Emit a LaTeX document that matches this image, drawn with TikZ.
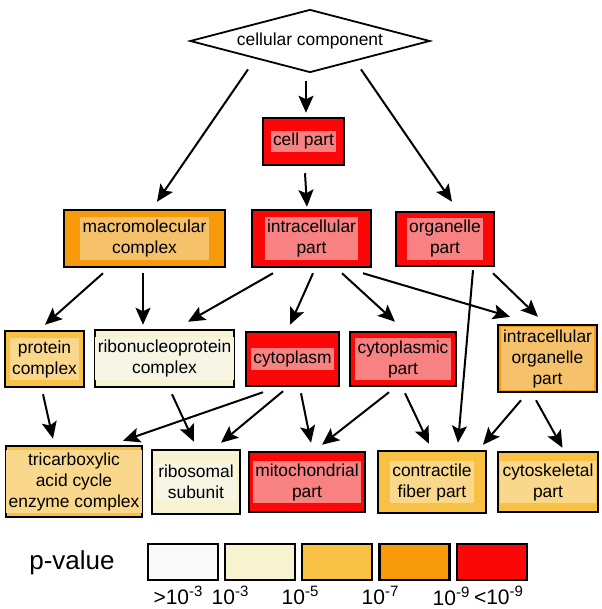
\documentclass[tikz,border=0pt]{standalone}
\usepackage{fontspec}
\setmainfont{Liberation Sans}
\usetikzlibrary{shapes.geometric,arrows.meta}

\definecolor{cWhite}{HTML}{F9F9F9}
\definecolor{cCream}{HTML}{F7F2D0}
\definecolor{cLtOr}{HTML}{F9C144}
\definecolor{cOr}{HTML}{F79A09}
\definecolor{cRed}{HTML}{FC0707}
\definecolor{cCreamIn}{HTML}{F7F5E4}
\definecolor{cLtOrIn}{HTML}{F9D78B}
\definecolor{cOrIn}{HTML}{F6C16B}
\definecolor{cRedIn}{HTML}{F88181}

\newcommand{\pexp}[1]{\raisebox{8pt}{\fontsize{15}{15}\selectfont #1}}

\tikzset{
  gobox/.style={draw=black, line width=2.5pt, inner sep=0pt},
  golab/.style={inner sep=2.5pt, align=center, font=\fontsize{17.4}{21}\selectfont},
  arr/.style={line width=2pt, -{Stealth[length=17pt,width=15pt,inset=3.5pt]}},
  legbox/.style={draw=black, line width=2.3pt, minimum width=70pt, minimum height=36pt},
  leglab/.style={anchor=base, inner sep=0pt, font=\fontsize{21}{22}\selectfont},
}

\begin{document}
\begin{tikzpicture}[x=1pt,y=-1pt]
\useasboundingbox (0,0) rectangle (601,609);
\node[diamond, draw, line width=1.8pt, aspect=3.7, inner sep=0pt, minimum width=240pt, minimum height=63pt, font=\fontsize{17.4}{21}\selectfont] (cc) at (310,41) {cellular component};

\node[gobox, fill=cRed, minimum width=81pt, minimum height=47pt] (cellpart) at (303.5,141.5) {};
\node[golab, fill=cRedIn] (cellpart-t) at (cellpart) {cell part};

\node[gobox, fill=cOr, minimum width=161pt, minimum height=57pt] (macro) at (144.5,238.5) {};
\node[golab, fill=cOrIn] (macro-t) at (macro) {macromolecular\\complex};
\node[gobox, fill=cRed, minimum width=119pt, minimum height=57pt] (intra) at (311.5,238.5) {};
\node[golab, fill=cRedIn] (intra-t) at (intra) {intracellular\\part};
\node[gobox, fill=cRed, minimum width=98pt, minimum height=54pt] (organelle) at (445,239) {};
\node[golab, fill=cRedIn] (organelle-t) at (organelle) {organelle\\part};

\node[gobox, fill=cLtOr, minimum width=79pt, minimum height=56pt] (protein) at (44.5,359) {};
\node[golab, fill=cLtOrIn] (protein-t) at (protein) {protein\\complex};
\node[gobox, fill=cCream, minimum width=139pt, minimum height=57pt] (ribo) at (164.5,358.5) {};
\node[golab, fill=cCreamIn] (ribo-t) at (ribo) {ribonucleoprotein\\complex};
\node[gobox, fill=cRed, minimum width=93pt, minimum height=54pt] (cytoplasm) at (292.5,359) {};
\node[golab, fill=cRedIn] (cytoplasm-t) at (cytoplasm) {cytoplasm};
\node[gobox, fill=cRed, minimum width=106pt, minimum height=54pt] (cytpart) at (403,359) {};
\node[golab, fill=cRedIn] (cytpart-t) at (cytpart) {cytoplasmic\\part};
\node[gobox, fill=cOr, minimum width=99pt, minimum height=67pt] (iop) at (547.5,358.5) {};
\node[golab, fill=cOrIn] (iop-t) at (iop) {intracellular\\organelle\\part};

\node[gobox, fill=cLtOr, minimum width=136pt, minimum height=71pt] (tca) at (74,481.5) {};
\node[golab, fill=cLtOrIn] (tca-t) at (tca) {tricarboxylic\\acid cycle\\enzyme complex};
\node[gobox, fill=cCream, minimum width=88pt, minimum height=64pt] (ribosomal) at (196,482) {};
\node[golab, fill=cCreamIn] (ribosomal-t) at (ribosomal) {ribosomal\\subunit};
\node[gobox, fill=cRed, minimum width=116pt, minimum height=60pt] (mito) at (307,482) {};
\node[golab, fill=cRedIn] (mito-t) at (mito) {mitochondrial\\part};
\node[gobox, fill=cLtOr, minimum width=108pt, minimum height=62pt] (contractile) at (432,482) {};
\node[golab, fill=cLtOrIn] (contractile-t) at (contractile) {contractile\\fiber part};
\node[gobox, fill=cLtOr, minimum width=100pt, minimum height=60pt] (cytoskel) at (548,482) {};
\node[golab, fill=cLtOrIn] (cytoskel-t) at (cytoskel) {cytoskeletal\\part};

\draw[arr] ([shift={(-62,-4)}]cc.south) -- ([shift={(12.5,-7)}]macro.north);
\draw[arr] ([shift={(-4,8)}]cc.south) -- ([shift={(2.5,-4)}]cellpart.north);
\draw[arr] ([shift={(51,-4)}]cc.south) -- ([shift={(7,-9)}]organelle.north);
\draw[arr] ([shift={(1.5,7)}]cellpart.south) -- ([shift={(-4.5,-2)}]intra.north);
\draw[arr] ([shift={(-41.5,5)}]macro.south) -- ([shift={(0.5,-5)}]protein.north);
\draw[arr] ([shift={(-1.5,5)}]macro.south) -- ([shift={(-21.5,-4)}]ribo.north);
\draw[arr] ([shift={(-38.5,5)}]intra.south) -- ([shift={(23.5,-7)}]ribo.north);
\draw[arr] ([shift={(1.5,5)}]intra.south) -- ([shift={(-2.5,-6)}]cytoplasm.north);
\draw[arr] ([shift={(30.5,5)}]intra.south) -- ([shift={(-8,-9)}]cytpart.north);
\draw[arr] ([shift={(51.5,5)}]intra.south) -- ([shift={(-37.5,-7)}]iop.north);
\draw[arr] ([shift={(48,6)}]organelle.south) -- ([shift={(-9.5,-7)}]iop.north);
\draw[arr] ([shift={(28,3)}]organelle.south) -- ([shift={(26,-7)}]contractile.north);
\draw[arr] ([shift={(-1.5,6)}]protein.south) -- ([shift={(-21,-6)}]tca.north);
\draw[arr] ([shift={(-29.5,5)}]cytoplasm.south) -- ([shift={(49,-4)}]tca.north);
\draw[arr] ([shift={(-9.5,4)}]cytoplasm.south) -- ([shift={(25,-6)}]ribosomal.north);
\draw[arr] ([shift={(7.5,6)}]ribo.south) -- ([shift={(-2,-7)}]ribosomal.north);
\draw[arr] ([shift={(8.5,6)}]cytoplasm.south) -- ([shift={(4,-8)}]mito.north);
\draw[arr] ([shift={(-14,5)}]cytpart.south) -- ([shift={(15,-6)}]mito.north);
\draw[arr] ([shift={(2,6)}]cytpart.south) -- ([shift={(-3,-6)}]contractile.north);
\draw[arr] ([shift={(-26.5,7)}]iop.south) -- ([shift={(51,-5)}]contractile.north);
\draw[arr] ([shift={(-11.5,7)}]iop.south) -- ([shift={(14.5,-3)}]cytoskel.north);

% legend
\node[font=\fontsize{26}{30}\selectfont] (pval) at (72,563) {p-value};
\node[legbox, fill=cWhite] (lg1) at (183,562) {};
\node[legbox, fill=cCream] (lg2) at (260,562) {};
\node[legbox, fill=cLtOr] (lg3) at (337,562) {};
\node[legbox, fill=cOr] (lg4) at (414.5,562) {};
\node[legbox, fill=cRed] (lg5) at (492,562) {};
\node[leglab] (lb1) at (178,604) {>10\pexp{-3}};
\node[leglab] (lb2) at (230,604) {10\pexp{-3}};
\node[leglab] (lb3) at (300,604) {10\pexp{-5}};
\node[leglab] (lb4) at (380,604) {10\pexp{-7}};
\node[leglab] (lb5) at (451,605.5) {10\pexp{-9}};
\node[leglab] (lb6) at (498.5,604) {<10\pexp{-9}};
\end{tikzpicture}
\end{document}
